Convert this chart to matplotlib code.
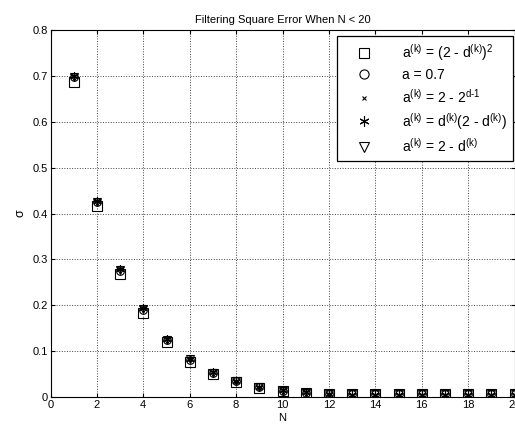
import numpy as np
import matplotlib
matplotlib.use('Agg')
import matplotlib.pyplot as plt

plt.rcParams['font.family'] = ['Liberation Sans', 'DejaVu Sans']
plt.rcParams['mathtext.fontset'] = 'custom'
plt.rcParams['mathtext.rm'] = 'Liberation Sans'

N = list(range(1, 21))
sq = [0.687, 0.417, 0.268, 0.184, 0.119, 0.077, 0.050, 0.032, 0.020, 0.013,
      0.009, 0.006, 0.006, 0.006, 0.006, 0.006, 0.006, 0.006, 0.006, 0.006]
circ = [0.697, 0.424, 0.275, 0.190, 0.124, 0.081, 0.053, 0.034, 0.021, 0.014,
        0.009, 0.006, 0.006, 0.006, 0.006, 0.006, 0.006, 0.006, 0.006, 0.006]
cross = [0.700, 0.428, 0.278, 0.193, 0.127, 0.083, 0.054, 0.035, 0.022, 0.015,
         0.010, 0.006, 0.005, 0.005, 0.005, 0.005, 0.005, 0.005, 0.005, 0.005]
star = [0.700, 0.428, 0.278, 0.193, 0.127, 0.083, 0.054, 0.035, 0.022, 0.015,
        0.010, 0.006, 0.005, 0.005, 0.005, 0.005, 0.005, 0.005, 0.005, 0.005]
tri = [0.698, 0.425, 0.276, 0.191, 0.125, 0.082, 0.053, 0.034, 0.021, 0.014,
       0.009, 0.006, 0.006, 0.006, 0.006, 0.006, 0.006, 0.006, 0.006, 0.006]

k = r'$\mathregular{^{(k)}}$'
labels = ['a' + k + ' = (2 - d' + k + r')$\mathregular{^2}$',
          'a = 0.7',
          'a' + k + r' = 2 - 2$\mathregular{^{d\text{-}1}}$',
          'a' + k + ' = d' + k + '(2 - d' + k + ')',
          'a' + k + ' = 2 - d' + k]

fig = plt.figure(figsize=(5.15, 4.34), dpi=100)
ax = fig.add_axes([50.5 / 515, 1 - 397 / 434, 464 / 515, 367 / 434])

ax.plot(N, sq, 's', mfc='none', mec='k', ms=6.5, mew=0.8, label=labels[0])
ax.plot(N, circ, 'o', mfc='none', mec='k', ms=5.5, mew=0.8, label=labels[1])
ax.plot(N, cross, 'x', color='k', ms=3, mew=0.8, label=labels[2])
ax.plot(N, star, marker=(6, 2, 0), ls='none', color='k', ms=6, mew=0.8, label=labels[3])
ax.plot(N, tri, 'v', mfc='none', mec='k', ms=6, mew=0.8, label=labels[4])

ax.set_xlim(0, 20)
ax.set_ylim(0, 0.8)
ax.set_xticks(range(0, 21, 2))
ax.set_yticks(np.arange(0, 0.81, 0.1))
ax.set_yticklabels(['0', '0.1', '0.2', '0.3', '0.4', '0.5', '0.6', '0.7', '0.8'])
ax.tick_params(direction='in', top=True, right=True, labelsize=8, length=3, pad=2)
ax.grid(True, color='#444444', ls=':', lw=0.7)
for s in ax.spines.values():
    s.set_linewidth(0.8)

ax.set_title('Filtering Square Error When N < 20', fontsize=8, pad=5)
ax.set_xlabel('N', fontsize=8, labelpad=2)
ax.set_ylabel('σ', fontsize=9, labelpad=4)

leg = ax.legend(loc='upper right', bbox_to_anchor=(0.997, 0.984), fontsize=10,
                frameon=True, fancybox=False, edgecolor='k', framealpha=1,
                borderpad=0.45, labelspacing=0.38, handletextpad=1.3,
                borderaxespad=0.0, handlelength=2.9, markerscale=1.2)
leg.get_frame().set_linewidth(0.9)

fig.savefig('out.png', dpi=100)
